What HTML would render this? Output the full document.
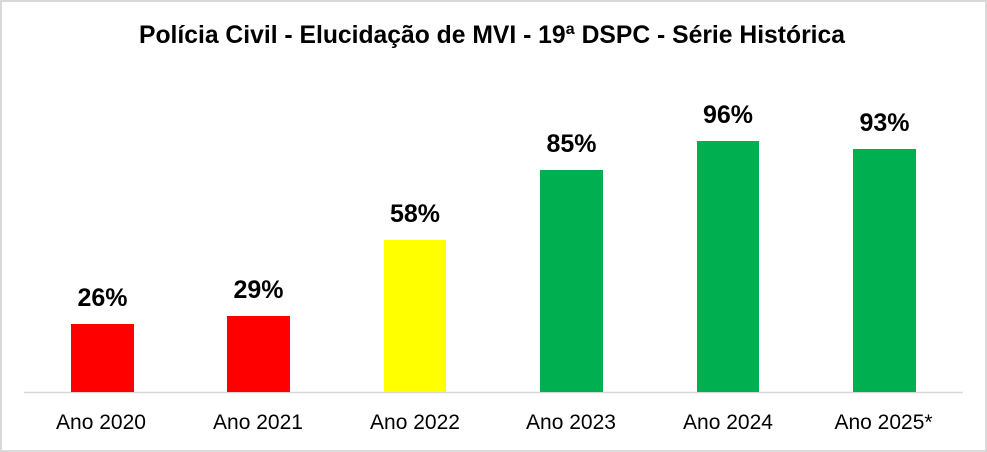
<!DOCTYPE html>
<html>
<head>
<meta charset="utf-8">
<style>
  html, body { margin:0; padding:0; background:#fff; }
  svg { display:block; }
</style>
</head>
<body>
<svg width="987" height="452" viewBox="0 0 987 452" xmlns="http://www.w3.org/2000/svg">
  <rect x="0" y="0" width="987" height="452" fill="#ffffff"/>
  <rect x="1" y="1" width="985" height="450" fill="none" stroke="#d9d9d9" stroke-width="2"/>

  <text x="139" y="43" font-family="Liberation Sans, Arial, sans-serif" font-weight="bold" font-size="25" fill="#000" textLength="706" lengthAdjust="spacingAndGlyphs">Polícia Civil - Elucidação de MVI - 19ª DSPC - Série Histórica</text>

  <!-- axis -->
  <line x1="24" y1="392.5" x2="963" y2="392.5" stroke="#d9d9d9" stroke-width="1.5"/>

  <!-- bars -->
  <rect x="71" y="324" width="63" height="68" fill="#ff0000"/>
  <rect x="227" y="316" width="63" height="76" fill="#ff0000"/>
  <rect x="384" y="240" width="62" height="152" fill="#ffff00"/>
  <rect x="540" y="170" width="63" height="222" fill="#00b050"/>
  <rect x="697" y="141" width="62" height="251" fill="#00b050"/>
  <rect x="853" y="149" width="63" height="243" fill="#00b050"/>

  <!-- value labels -->
  <g font-family="Liberation Sans, Arial, sans-serif" font-weight="bold" font-size="25" fill="#000" text-anchor="middle">
    <text x="102.5" y="306">26%</text>
    <text x="258.5" y="298">29%</text>
    <text x="415" y="222">58%</text>
    <text x="571.5" y="152">85%</text>
    <text x="728" y="123">96%</text>
    <text x="884.5" y="131">93%</text>
  </g>

  <!-- category labels -->
  <g font-family="Liberation Sans, Arial, sans-serif" font-size="21" fill="#000" text-anchor="middle">
    <text x="101" y="429">Ano 2020</text>
    <text x="258" y="429">Ano 2021</text>
    <text x="415" y="429">Ano 2022</text>
    <text x="571" y="429">Ano 2023</text>
    <text x="728" y="429">Ano 2024</text>
    <text x="883.5" y="429">Ano 2025*</text>
  </g>
</svg>
</body>
</html>
